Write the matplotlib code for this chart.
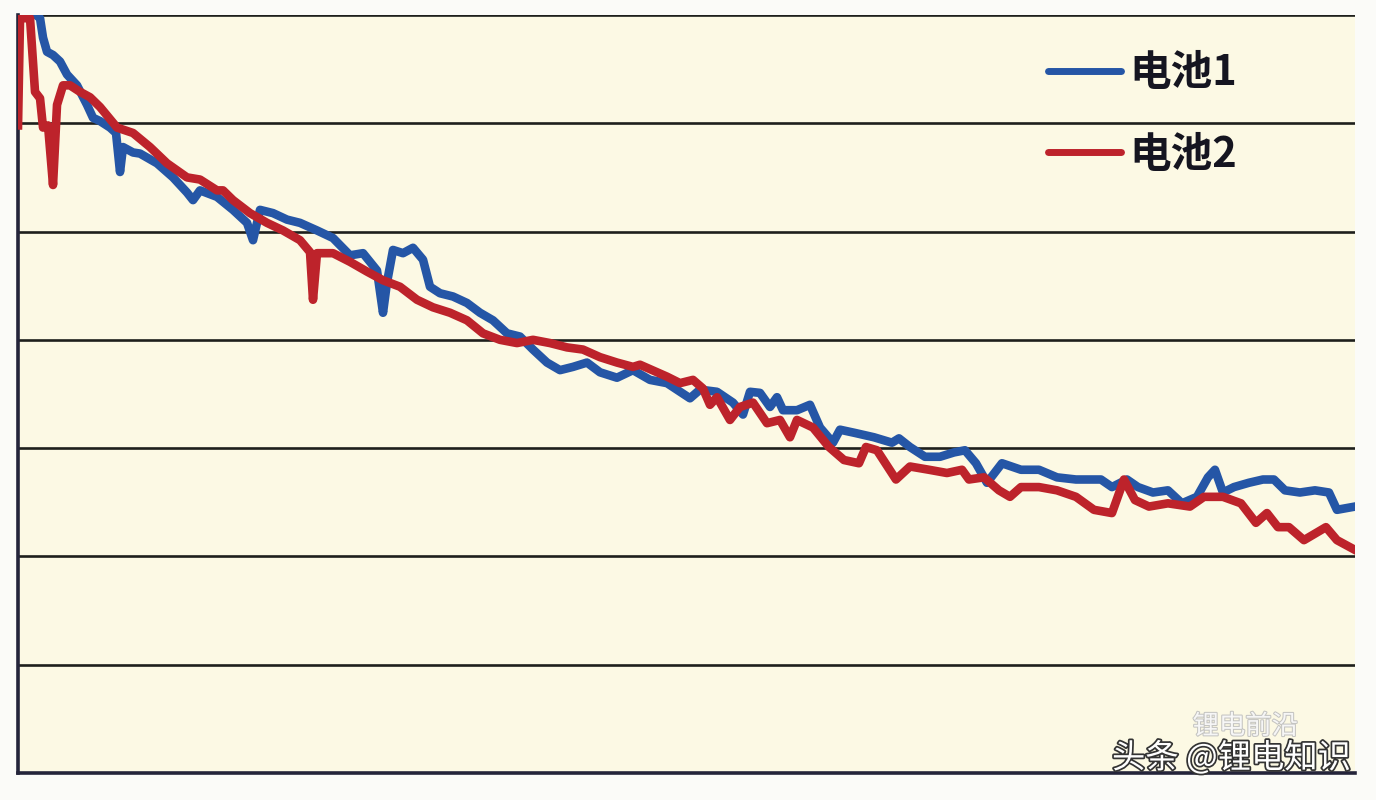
import matplotlib.pyplot as plt
import matplotlib.patheffects as pe
import numpy as np

plt.rcParams['font.family'] = ['Noto Sans CJK SC', 'DejaVu Sans']

# battery 1 (blue)
x1 = [0, 7, 14, 22, 25, 29, 35, 42, 49, 59, 69, 75, 82, 92, 98, 102, 105, 115, 122, 139,
      155, 169, 175, 182, 199, 215, 229, 235, 242, 255, 269, 282, 299, 315, 332, 345, 359,
      365, 369, 375, 385, 395, 405, 412, 422, 435, 449, 462, 475, 489, 502, 515, 529, 542,
      555, 569, 582, 599, 615, 632, 649, 672, 682, 699, 715, 725, 732, 742, 752, 759, 765,
      779, 792, 802, 815, 822, 837, 856, 874, 881, 892, 907, 922, 936, 947, 958, 969, 984,
      1003, 1021, 1039, 1058, 1083, 1094, 1109, 1120, 1135, 1150, 1164, 1179, 1190, 1197,
      1205, 1216, 1231, 1245, 1256, 1267, 1282, 1297, 1311, 1319, 1337]
y1 = [7.03, 7.05, 7.03, 6.97, 6.79, 6.66, 6.63, 6.57, 6.45, 6.35, 6.17, 6.05, 6.02, 5.96,
      5.91, 5.55, 5.78, 5.73, 5.72, 5.63, 5.50, 5.36, 5.29, 5.38, 5.32, 5.20, 5.08, 4.92,
      5.20, 5.17, 5.11, 5.08, 5.01, 4.94, 4.78, 4.80, 4.64, 4.25, 4.53, 4.83, 4.80, 4.85,
      4.74, 4.49, 4.43, 4.40, 4.34, 4.25, 4.18, 4.06, 4.03, 3.91, 3.79, 3.72, 3.75, 3.79,
      3.70, 3.65, 3.72, 3.63, 3.60, 3.46, 3.54, 3.52, 3.42, 3.31, 3.52, 3.51, 3.38, 3.47,
      3.35, 3.35, 3.40, 3.19, 3.05, 3.17, 3.14, 3.10, 3.05, 3.09, 3.01, 2.92, 2.92, 2.96,
      2.98, 2.86, 2.68, 2.86, 2.80, 2.80, 2.73, 2.71, 2.71, 2.64, 2.71, 2.64, 2.59, 2.61,
      2.49, 2.55, 2.73, 2.80, 2.59, 2.64, 2.68, 2.71, 2.71, 2.61, 2.59, 2.61, 2.59, 2.43,
      2.46]

# battery 2 (red)
x2 = [0, 2, 12, 17, 22, 25, 30, 35, 39, 45, 52, 62, 72, 82, 99, 115, 132, 149, 169, 182,
      199, 205, 215, 232, 249, 265, 282, 292, 295, 299, 315, 332, 349, 365, 382, 399, 415,
      432, 449, 465, 482, 499, 515, 532, 549, 565, 582, 599, 615, 622, 649, 662, 675, 685,
      692, 699, 712, 722, 735, 749, 762, 772, 779, 795, 811, 826, 841, 848, 859, 878, 892,
      911, 929, 944, 951, 966, 981, 992, 1003, 1021, 1039, 1058, 1076, 1094, 1106, 1117,
      1131, 1150, 1172, 1186, 1205, 1223, 1238, 1249, 1260, 1271, 1286, 1308, 1319, 1337]
y2 = [5.98, 6.97, 6.97, 6.29, 6.23, 5.96, 5.98, 5.43, 6.17, 6.35, 6.35, 6.29, 6.24, 6.15,
      5.96, 5.91, 5.78, 5.63, 5.50, 5.48, 5.38, 5.38, 5.29, 5.17, 5.08, 5.01, 4.92, 4.81,
      4.37, 4.80, 4.80, 4.72, 4.63, 4.55, 4.49, 4.37, 4.30, 4.25, 4.18, 4.06, 4.00, 3.97,
      4.00, 3.97, 3.93, 3.91, 3.84, 3.79, 3.75, 3.77, 3.66, 3.60, 3.63, 3.55, 3.40, 3.47,
      3.26, 3.38, 3.42, 3.23, 3.26, 3.10, 3.26, 3.19, 3.01, 2.89, 2.86, 3.01, 2.98, 2.71,
      2.83, 2.80, 2.77, 2.80, 2.71, 2.73, 2.61, 2.55, 2.64, 2.64, 2.61, 2.55, 2.43, 2.40,
      2.71, 2.52, 2.46, 2.49, 2.46, 2.55, 2.55, 2.49, 2.31, 2.40, 2.27, 2.27, 2.15, 2.27,
      2.15, 2.06]

labels = ["电池1", "电池2"]
grid_levels = [1, 2, 3, 4, 5, 6, 7]

fig = plt.figure(figsize=(13.76, 8), dpi=100, facecolor="#fbfbf8")
ax = fig.add_axes([0.0131, 0.0338, 0.9716, 0.9475])
ax.set_facecolor("#fcf9e4")

for g in grid_levels:
    ax.axhline(g, color="#1e1f1c", lw=1.9, zorder=1)

ax.plot(x1, y1, color="#2556a6", lw=6.2, solid_joinstyle="round", label=labels[0], zorder=3)
ax.plot(x2, y2, color="#bd232b", lw=6.2, solid_joinstyle="round", label=labels[1], zorder=4)

ax.set_xlim(0, 1337)
ax.set_ylim(0, 7)
ax.set_xticks([])
ax.set_yticks([])
for s in ["top", "right"]:
    ax.spines[s].set_visible(False)
for s in ["left", "bottom"]:
    ax.spines[s].set_color("#24243a")
    ax.spines[s].set_linewidth(2.6)

leg = ax.legend(loc="upper right", bbox_to_anchor=(0.94, 1.0), frameon=False,
                prop={"size": 30, "weight": "bold"}, handlelength=1.75,
                handletextpad=0.2, labelspacing=0.95)
for line in leg.get_lines():
    line.set_linewidth(5)
    line.set_solid_capstyle("round")
for t in leg.get_texts():
    t.set_color("#151520")

fig.text(0.905, 0.092, "锂电前沿", color="white", fontsize=19, alpha=0.85,
         ha="center", va="center",
         path_effects=[pe.withStroke(linewidth=1.5, foreground="#bbbbbb")])
fig.text(0.982, 0.052, "头条 @锂电知识", color="white", fontsize=24,
         ha="right", va="center",
         path_effects=[pe.withStroke(linewidth=2.5, foreground="#333333")])

fig.savefig("out.png", dpi=100, facecolor=fig.get_facecolor())
